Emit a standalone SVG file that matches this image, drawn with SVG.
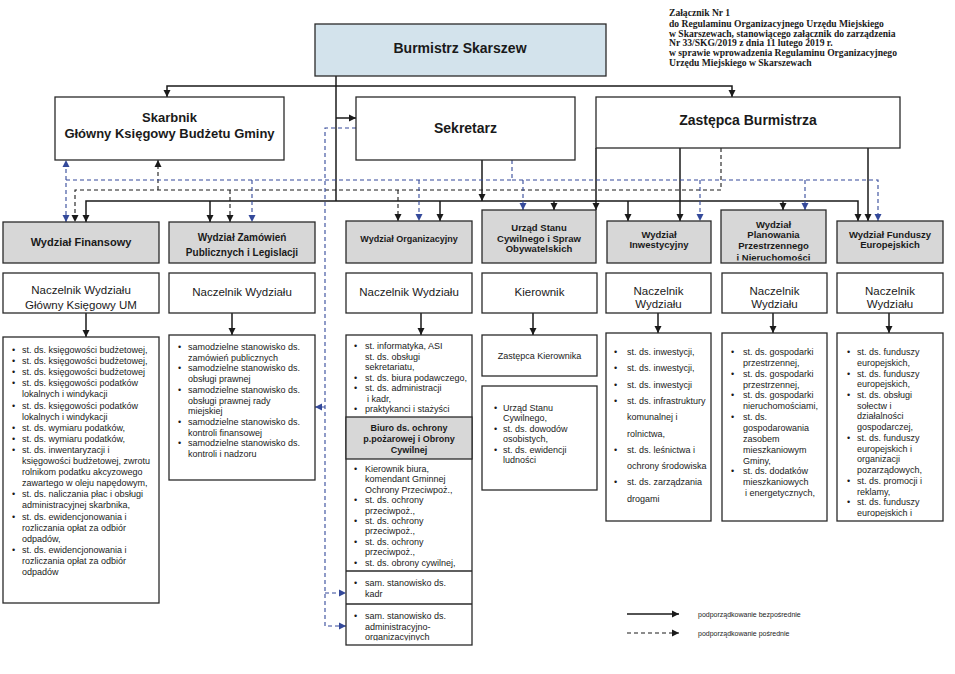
<svg xmlns="http://www.w3.org/2000/svg" width="955" height="674" viewBox="0 0 955 674">
<style>
.bx{fill:#fff;stroke:#2a2a2a;stroke-width:1.3}
.gy{fill:#d7d7d7;stroke:#2a2a2a;stroke-width:1.3}
.bl{fill:#d3e3ec;stroke:#2a2a2a;stroke-width:1.3}
.h{font-family:"Liberation Sans",Arial,sans-serif;font-weight:bold;fill:#1a1a1a;text-anchor:middle}
.n{font-family:"Liberation Sans",Arial,sans-serif;font-size:11.5px;fill:#1a1a1a;text-anchor:middle}
.l{font-family:"Liberation Sans",Arial,sans-serif;font-size:9px;fill:#1a1a1a}
.lg{font-family:"Liberation Sans",Arial,sans-serif;font-size:7px;fill:#1a1a1a}
.hdr{font-family:"Liberation Serif","Times New Roman",serif;font-weight:bold;font-size:9.6px;fill:#1a1a1a}
.s{fill:none;stroke:#1a1a1a;stroke-width:1.5}
.d{fill:none;stroke:#1a1a1a;stroke-width:1.1;stroke-dasharray:4 3}
.db{fill:none;stroke:#34499a;stroke-width:1.1;stroke-dasharray:4 3}
</style>
<defs>
<marker id="a" markerUnits="userSpaceOnUse" markerWidth="8" markerHeight="8" refX="7" refY="4" orient="auto" viewBox="0 0 8 8"><path d="M0,0.5 L7,4 L0,7.5z" fill="#1a1a1a"/></marker>
<marker id="ab" markerUnits="userSpaceOnUse" markerWidth="8" markerHeight="8" refX="7" refY="4" orient="auto" viewBox="0 0 8 8"><path d="M0,0.5 L7,4 L0,7.5z" fill="#34499a"/></marker>
<clipPath id="cPlan"><rect x="721" y="210" width="105" height="50.5"/></clipPath>
<clipPath id="cFund"><rect x="837" y="333" width="106" height="184"/></clipPath>
<clipPath id="cOrg"><rect x="346" y="604" width="126" height="36.5"/></clipPath>
</defs>

<g id="header">
<text class="hdr" x="669" y="16">Załącznik Nr 1</text>
<text class="hdr" x="669" y="27">do Regulaminu Organizacyjnego Urzędu Miejskiego</text>
<text class="hdr" x="669" y="36.5">w Skarszewach, stanowiącego załącznik do zarządzenia</text>
<text class="hdr" x="669" y="46">Nr 33/SKG/2019 z dnia 11 lutego 2019 r.</text>
<text class="hdr" x="669" y="56">w sprawie wprowadzenia Regulaminu  Organizacyjnego</text>
<text class="hdr" x="669" y="66">Urzędu Miejskiego w Skarszewach</text>
</g>

<g id="connectors">
<path class="s" d="M336,76 V201"/>
<path class="s" d="M336,86 H167 V97" marker-end="url(#a)"/>
<path class="s" d="M336,86 H732 V97" marker-end="url(#a)"/>
<path class="s" d="M336,118 H356" marker-end="url(#a)"/>
<path class="s" d="M336,201 H86 V222" marker-end="url(#a)"/>
<path class="s" d="M336,201 H858 V221" marker-end="url(#a)"/>
<path class="s" d="M210,201 V222" marker-end="url(#a)"/>
<path class="s" d="M440,201 V221" marker-end="url(#a)"/>
<path class="s" d="M554,201 V210" marker-end="url(#a)"/>
<path class="s" d="M628,201 V221" marker-end="url(#a)"/>
<path class="s" d="M783,201 V210" marker-end="url(#a)"/>
<path class="s" d="M482,160 V201" marker-end="url(#a)"/>
<path class="s" d="M596,148 V210" marker-end="url(#a)"/>
<path class="s" d="M680,148 V221" marker-end="url(#a)"/>
<path class="s" d="M868,148 V221" marker-end="url(#a)"/>
<path class="s" d="M86,313 V337" marker-end="url(#a)"/>
<path class="s" d="M232,313 V335" marker-end="url(#a)"/>
<path class="s" d="M421,313 V335" marker-end="url(#a)"/>
<path class="s" d="M533,313 V335" marker-end="url(#a)"/>
<path class="s" d="M658,313 V333" marker-end="url(#a)"/>
<path class="s" d="M773,313 V333" marker-end="url(#a)"/>
<path class="s" d="M889,313 V333" marker-end="url(#a)"/>
<path class="d" d="M721,148 V190 H75 V222" marker-end="url(#a)"/>
<path class="d" d="M158,190 V160" marker-end="url(#a)"/>
<path class="d" d="M230,190 V222" marker-end="url(#a)"/>
<path class="d" d="M398,190 V221" marker-end="url(#a)"/>
<path class="db" d="M512,160 V180 H66 V222" marker-end="url(#ab)"/>
<path class="db" d="M66,180 V160" marker-end="url(#ab)"/>
<path class="db" d="M512,180 H878 V221" marker-end="url(#ab)"/>
<path class="db" d="M252,180 V222" marker-end="url(#ab)"/>
<path class="db" d="M419,180 V221" marker-end="url(#ab)"/>
<path class="db" d="M523,180 V210" marker-end="url(#ab)"/>
<path class="db" d="M700,180 V221" marker-end="url(#ab)"/>
<path class="db" d="M805,180 V210" marker-end="url(#ab)"/>
<path class="db" d="M356,128 H325 V626 H346" marker-end="url(#ab)"/>
<path class="db" d="M325,407 H315" marker-end="url(#ab)"/>
<path class="db" d="M325,593 H346" marker-end="url(#ab)"/>
</g>

<g id="burmistrz">
<rect class="bl" x="315" y="24" width="291" height="52"/>
<text class="h" x="460" y="53" font-size="14">Burmistrz Skarszew</text>
</g>
<g id="skarbnik">
<rect class="bx" x="55" y="97" width="229" height="63"/>
<text class="h" x="169.5" y="121.5" font-size="13">Skarbnik</text>
<text class="h" x="169.5" y="137.5" font-size="13">Główny Księgowy Budżetu Gminy</text>
</g>
<g id="sekretarz">
<rect class="bx" x="356" y="97" width="219" height="63"/>
<text class="h" x="465.5" y="133" font-size="14">Sekretarz</text>
</g>
<g id="zastepca">
<rect class="bx" x="596" y="97" width="304" height="51"/>
<text class="h" x="748" y="125" font-size="14">Zastępca Burmistrza</text>
</g>

<g id="wydzial-finansowy">
<rect class="gy" x="3" y="222" width="156" height="41"/>
<text class="h" x="81" y="246" font-size="11">Wydział Finansowy</text>
<rect class="bx" x="3" y="273" width="156" height="40"/>
<text class="n" x="81" y="294">Naczelnik Wydziału</text>
<text class="n" x="81" y="309">Główny Księgowy UM</text>
<rect class="bx" x="3" y="337" width="156" height="266"/>
<text class="l" y="353"><tspan x="12">•</tspan><tspan x="22">st. ds. księgowości budżetowej,</tspan></text>
<text class="l" y="364.1"><tspan x="12">•</tspan><tspan x="22">st. ds. księgowości budżetowej,</tspan></text>
<text class="l" y="375.2"><tspan x="12">•</tspan><tspan x="22">st. ds. księgowości budżetowej</tspan></text>
<text class="l" y="386.3"><tspan x="12">•</tspan><tspan x="22">st. ds. księgowości podatków</tspan></text>
<text class="l" x="22" y="397.4">lokalnych i windykacji</text>
<text class="l" y="408.5"><tspan x="12">•</tspan><tspan x="22">st. ds. księgowości podatków</tspan></text>
<text class="l" x="22" y="419.6">lokalnych i windykacji</text>
<text class="l" y="430.7"><tspan x="12">•</tspan><tspan x="22">st. ds. wymiaru podatków,</tspan></text>
<text class="l" y="441.8"><tspan x="12">•</tspan><tspan x="22">st. ds. wymiaru podatków,</tspan></text>
<text class="l" y="452.9"><tspan x="12">•</tspan><tspan x="22">st. ds. inwentaryzacji i</tspan></text>
<text class="l" x="22" y="464">księgowości budżetowej, zwrotu</text>
<text class="l" x="22" y="475.1">rolnikom podatku akcyzowego</text>
<text class="l" x="22" y="486.2">zawartego w oleju napędowym,</text>
<text class="l" y="497.3"><tspan x="12">•</tspan><tspan x="22">st. ds. naliczania płac i obsługi</tspan></text>
<text class="l" x="22" y="508.4">administracyjnej skarbnika,</text>
<text class="l" y="519.5"><tspan x="12">•</tspan><tspan x="22">st. ds. ewidencjonowania i</tspan></text>
<text class="l" x="22" y="530.6">rozliczania opłat za odbiór</text>
<text class="l" x="22" y="541.7">odpadów,</text>
<text class="l" y="552.8"><tspan x="12">•</tspan><tspan x="22">st. ds. ewidencjonowania i</tspan></text>
<text class="l" x="22" y="563.9">rozliczania opłat za odbiór</text>
<text class="l" x="22" y="575">odpadów</text>
</g>

<g id="wydzial-zamowien">
<rect class="gy" x="169" y="222" width="146" height="41"/>
<text class="h" x="242" y="240.5" font-size="10">Wydział Zamówień</text>
<text class="h" x="242" y="255.5" font-size="10">Publicznych i Legislacji</text>
<rect class="bx" x="169" y="273" width="146" height="40"/>
<text class="n" x="242" y="296">Naczelnik Wydziału</text>
<rect class="bx" x="169" y="335" width="146" height="145"/>
<text class="l" y="350"><tspan x="178">•</tspan><tspan x="188">samodzielne stanowisko ds.</tspan></text>
<text class="l" x="188" y="360.7">zamówień publicznych</text>
<text class="l" y="371.4"><tspan x="178">•</tspan><tspan x="188">samodzielne stanowisko ds.</tspan></text>
<text class="l" x="188" y="382.1">obsługi prawnej</text>
<text class="l" y="392.8"><tspan x="178">•</tspan><tspan x="188">samodzielne stanowisko ds.</tspan></text>
<text class="l" x="188" y="403.5">obsługi prawnej rady</text>
<text class="l" x="188" y="414.2">miejskiej</text>
<text class="l" y="424.9"><tspan x="178">•</tspan><tspan x="188">samodzielne stanowisko ds.</tspan></text>
<text class="l" x="188" y="435.6">kontroli finansowej</text>
<text class="l" y="446.3"><tspan x="178">•</tspan><tspan x="188">samodzielne stanowisko ds.</tspan></text>
<text class="l" x="188" y="457">kontroli i nadzoru</text>
</g>

<g id="wydzial-organizacyjny">
<rect class="gy" x="346" y="221" width="126" height="42"/>
<text class="h" x="409" y="241.5" font-size="9">Wydział Organizacyjny</text>
<rect class="bx" x="346" y="273" width="126" height="40"/>
<text class="n" x="409" y="296">Naczelnik Wydziału</text>
<rect class="bx" x="346" y="335" width="126" height="310"/>
<rect class="gy" x="346" y="417" width="126" height="42"/>
<line class="bx" x1="346" y1="571" x2="472" y2="571"/>
<line class="bx" x1="346" y1="604" x2="472" y2="604"/>
<text class="l" y="349"><tspan x="354">•</tspan><tspan x="365">st. informatyka, ASI</tspan></text>
<text class="l" x="365" y="359.5">st. ds. obsługi</text>
<text class="l" x="365" y="370">sekretariatu,</text>
<text class="l" y="380.5"><tspan x="354">•</tspan><tspan x="365">st. ds. biura podawczego,</tspan></text>
<text class="l" y="391"><tspan x="354">•</tspan><tspan x="365">st. ds. administracji</tspan></text>
<text class="l" x="367" y="401.5">i kadr,</text>
<text class="l" y="412"><tspan x="354">•</tspan><tspan x="365">praktykanci i stażyści</tspan></text>
<text class="h" x="409" y="431" font-size="9">Biuro ds. ochrony</text>
<text class="h" x="409" y="442" font-size="9">p.pożarowej i Obrony</text>
<text class="h" x="409" y="453" font-size="9">Cywilnej</text>
<text class="l" y="472"><tspan x="354">•</tspan><tspan x="365">Kierownik biura,</tspan></text>
<text class="l" x="365" y="482.4">komendant Gminnej</text>
<text class="l" x="365" y="492.8">Ochrony  Przeciwpoż.,</text>
<text class="l" y="503.2"><tspan x="354">•</tspan><tspan x="365">st. ds. ochrony</tspan></text>
<text class="l" x="365" y="513.6">przeciwpoż.,</text>
<text class="l" y="524"><tspan x="354">•</tspan><tspan x="365">st. ds. ochrony</tspan></text>
<text class="l" x="365" y="534.4">przeciwpoż.,</text>
<text class="l" y="544.8"><tspan x="354">•</tspan><tspan x="365">st. ds. ochrony</tspan></text>
<text class="l" x="365" y="555.2">przeciwpoż.,</text>
<text class="l" y="565.6"><tspan x="354">•</tspan><tspan x="365">st. ds. obrony cywilnej,</tspan></text>
<text class="l" y="586"><tspan x="354">•</tspan><tspan x="365">sam. stanowisko ds.</tspan></text>
<text class="l" x="365" y="597">kadr</text>
<g clip-path="url(#cOrg)">
<text class="l" y="619"><tspan x="354">•</tspan><tspan x="365">sam. stanowisko ds.</tspan></text>
<text class="l" x="365" y="629.5">administracyjno-</text>
<text class="l" x="365" y="640">organizacyjnych</text>
</g>
</g>

<g id="urzad-stanu-cywilnego">
<rect class="gy" x="482" y="210" width="114" height="53"/>
<text class="h" x="539" y="230.5" font-size="9.5">Urząd Stanu</text>
<text class="h" x="539" y="241.5" font-size="9.5">Cywilnego i Spraw</text>
<text class="h" x="539" y="252" font-size="9.5">Obywatelskich</text>
<rect class="bx" x="482" y="273" width="115" height="40"/>
<text class="n" x="539.5" y="296">Kierownik</text>
<rect class="bx" x="482" y="335" width="115" height="41"/>
<text class="l" x="539.5" y="359" text-anchor="middle">Zastępca Kierownika</text>
<rect class="bx" x="482" y="386" width="115" height="104"/>
<text class="l" y="411"><tspan x="494">•</tspan><tspan x="503">Urząd Stanu</tspan></text>
<text class="l" x="503" y="421.4">Cywilnego,</text>
<text class="l" y="431.8"><tspan x="494">•</tspan><tspan x="503">st. ds. dowodów</tspan></text>
<text class="l" x="503" y="442.2">osobistych,</text>
<text class="l" y="452.6"><tspan x="494">•</tspan><tspan x="503">st. ds. ewidencji</tspan></text>
<text class="l" x="503" y="463">ludności</text>
</g>

<g id="wydzial-inwestycyjny">
<rect class="gy" x="607" y="221" width="104" height="42"/>
<text class="h" x="659" y="237.5" font-size="9.5">Wydział</text>
<text class="h" x="659" y="248" font-size="9.5">Inwestycyjny</text>
<rect class="bx" x="606" y="273" width="105" height="40"/>
<text class="n" x="658.5" y="295">Naczelnik</text>
<text class="n" x="658.5" y="308">Wydziału</text>
<rect class="bx" x="606" y="333" width="105" height="188"/>
<text class="l" y="355"><tspan x="614">•</tspan><tspan x="627">st. ds. inwestycji,</tspan></text>
<text class="l" y="371.3"><tspan x="614">•</tspan><tspan x="627">st. ds. inwestycji,</tspan></text>
<text class="l" y="387.6"><tspan x="614">•</tspan><tspan x="627">st. ds. inwestycji</tspan></text>
<text class="l" y="403.9"><tspan x="614">•</tspan><tspan x="627">st. ds. infrastruktury</tspan></text>
<text class="l" x="627" y="420.2">komunalnej i</text>
<text class="l" x="627" y="436.5">rolnictwa,</text>
<text class="l" y="452.8"><tspan x="614">•</tspan><tspan x="627">st. ds. leśnictwa i</tspan></text>
<text class="l" x="627" y="469.1">ochrony środowiska</text>
<text class="l" y="485.4"><tspan x="614">•</tspan><tspan x="627">st. ds. zarządzania</tspan></text>
<text class="l" x="627" y="501.7">drogami</text>
</g>

<g id="wydzial-planowania">
<rect class="gy" x="721" y="210" width="105" height="53"/>
<g clip-path="url(#cPlan)">
<text class="h" x="773.5" y="227.5" font-size="9.5">Wydział</text>
<text class="h" x="773.5" y="238" font-size="9.5">Planowania</text>
<text class="h" x="773.5" y="248.5" font-size="9.5">Przestrzennego</text>
<text class="h" x="773.5" y="261" font-size="9.5">i Nieruchomości</text>
</g>
<rect class="bx" x="722" y="273" width="105" height="40"/>
<text class="n" x="774.5" y="295">Naczelnik</text>
<text class="n" x="774.5" y="308">Wydziału</text>
<rect class="bx" x="722" y="333" width="105" height="188"/>
<text class="l" y="355"><tspan x="731">•</tspan><tspan x="743">st. ds. gospodarki</tspan></text>
<text class="l" x="743" y="365.9">przestrzennej,</text>
<text class="l" y="376.7"><tspan x="731">•</tspan><tspan x="743">st. ds. gospodarki</tspan></text>
<text class="l" x="743" y="387.6">przestrzennej,</text>
<text class="l" y="398.4"><tspan x="731">•</tspan><tspan x="743">st. ds. gospodarki</tspan></text>
<text class="l" x="743" y="409.3">nieruchomościami,</text>
<text class="l" y="420.1"><tspan x="731">•</tspan><tspan x="743">st. ds.</tspan></text>
<text class="l" x="743" y="431">gospodarowania</text>
<text class="l" x="743" y="441.8">zasobem</text>
<text class="l" x="743" y="452.7">mieszkaniowym</text>
<text class="l" x="743" y="463.5">Gminy,</text>
<text class="l" y="474.4"><tspan x="731">•</tspan><tspan x="743">st. ds. dodatków</tspan></text>
<text class="l" x="743" y="485.2">mieszkaniowych</text>
<text class="l" x="745" y="496.1">i energetycznych,</text>
</g>

<g id="wydzial-funduszy">
<rect class="gy" x="837" y="221" width="106" height="42"/>
<text class="h" x="890" y="237.5" font-size="9.5">Wydział Funduszy</text>
<text class="h" x="890" y="248" font-size="9.5">Europejskich</text>
<rect class="bx" x="837" y="273" width="106" height="40"/>
<text class="n" x="890" y="295">Naczelnik</text>
<text class="n" x="890" y="308">Wydziału</text>
<rect class="bx" x="837" y="333" width="106" height="188"/>
<g clip-path="url(#cFund)">
<text class="l" y="355"><tspan x="847">•</tspan><tspan x="857">st. ds. funduszy</tspan></text>
<text class="l" x="857" y="365.7">europejskich,</text>
<text class="l" y="376.5"><tspan x="847">•</tspan><tspan x="857">st. ds. funduszy</tspan></text>
<text class="l" x="857" y="387.2">europejskich,</text>
<text class="l" y="397.9"><tspan x="847">•</tspan><tspan x="857">st. ds. obsługi</tspan></text>
<text class="l" x="857" y="408.7">sołectw i</text>
<text class="l" x="857" y="419.4">działalności</text>
<text class="l" x="857" y="430.1">gospodarczej,</text>
<text class="l" y="440.8"><tspan x="847">•</tspan><tspan x="857">st. ds. funduszy</tspan></text>
<text class="l" x="857" y="451.6">europejskich i</text>
<text class="l" x="857" y="462.3">organizacji</text>
<text class="l" x="857" y="473">pozarządowych,</text>
<text class="l" y="483.8"><tspan x="847">•</tspan><tspan x="857">st. ds. promocji i</tspan></text>
<text class="l" x="857" y="494.5">reklamy,</text>
<text class="l" y="505.2"><tspan x="847">•</tspan><tspan x="857">st. ds. funduszy</tspan></text>
<text class="l" x="857" y="516">europejskich i</text>
</g>
</g>

<g id="legend">
<path class="s" d="M627,614 H679" marker-end="url(#a)"/>
<path class="d" d="M627,633 H679" marker-end="url(#a)"/>
<text class="lg" x="698" y="616.5">podporządkowanie bezpośrednie</text>
<text class="lg" x="698" y="635.5">podporządkowanie pośrednie</text>
</g>
</svg>
